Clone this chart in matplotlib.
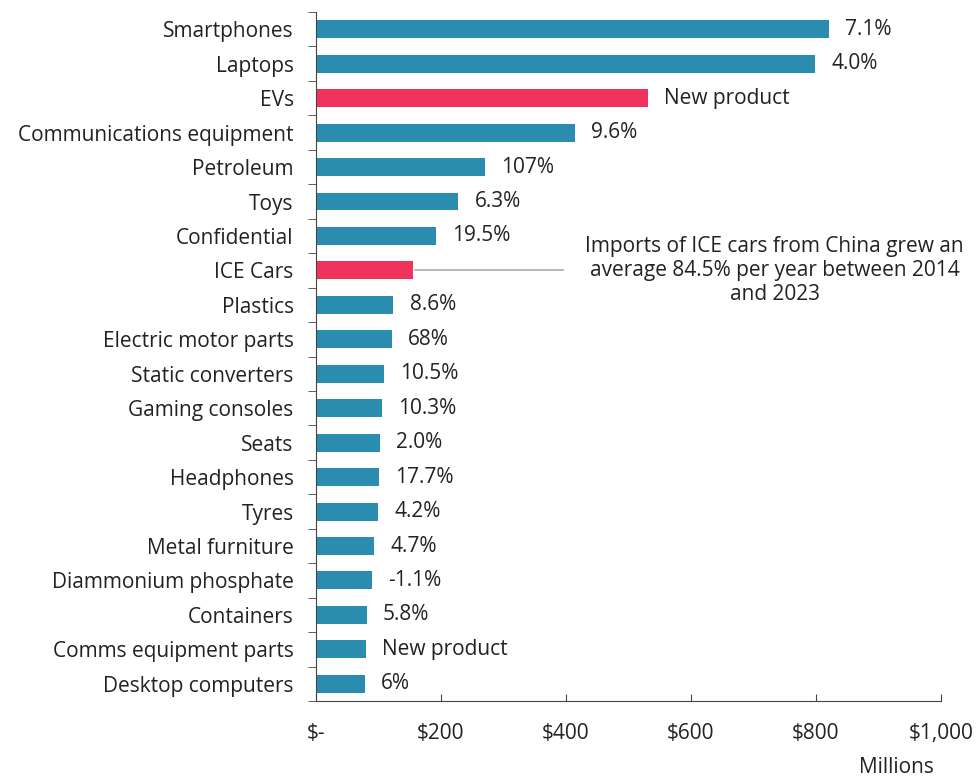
import matplotlib
matplotlib.use("Agg")
import matplotlib.pyplot as plt
import numpy as np

plt.rcParams["font.family"] = ["Open Sans", "DejaVu Sans"]

PRODUCTS = [
    "Smartphones", "Laptops", "EVs", "Communications equipment", "Petroleum",
    "Toys", "Confidential", "ICE Cars", "Plastics", "Electric motor parts",
    "Static converters", "Gaming consoles", "Seats", "Headphones", "Tyres",
    "Metal furniture", "Diammonium phosphate", "Containers",
    "Comms equipment parts", "Desktop computers",
]
VALUES = [821, 799, 531, 415, 271, 228, 192, 155, 124, 121,
          109, 105, 102, 101, 100, 93, 89, 81, 80, 78]
GROWTH = ["7.1%", "4.0%", "New product", "9.6%", "107%", "6.3%", "19.5%", "",
          "8.6%", "68%", "10.5%", "10.3%", "2.0%", "17.7%", "4.2%", "4.7%",
          "-1.1%", "5.8%", "New product", "6%"]
HIGHLIGHT = {"EVs", "ICE Cars"}
XTICKS = [0, 200, 400, 600, 800, 1000]
XTICK_LABELS = ["$-", "$200", "$400", "$600", "$800", "$1,000"]
NOTE = "Imports of ICE cars from China grew an\naverage 84.5% per year between 2014\nand 2023"

BLUE = "#2a8db0"
RED = "#f0335d"
TXT = "#222222"
FS = 15

fig = plt.figure(figsize=(9.78, 7.81), dpi=100)
ax = fig.add_axes([0.323, 0.1024, 0.639, 0.8822])

y = np.arange(len(PRODUCTS))
colors = [RED if p in HIGHLIGHT else BLUE for p in PRODUCTS]
ax.barh(y, VALUES, height=0.52, color=colors)

for yi, v, g in zip(y, VALUES, GROWTH):
    if g:
        ax.text(v + 26, yi, g, va="center", ha="left", fontsize=FS, color=TXT)

# callout for ICE cars
ice = PRODUCTS.index("ICE Cars")
ax.plot([VALUES[ice] + 4, 395], [ice, ice], color="#aaaaaa", lw=1.2)
ax.text(734, ice, NOTE, ha="center", va="center", multialignment="center",
        fontsize=FS, color=TXT, linespacing=1.2)

ax.set_ylim(len(PRODUCTS) - 0.5, -0.5)
ax.set_xlim(0, 1000)
ax.set_yticks(y)
ax.set_yticklabels(PRODUCTS, fontsize=FS, color=TXT)
ax.set_yticks(np.arange(len(PRODUCTS) + 1) - 0.5, minor=True)
ax.tick_params(axis="y", which="major", length=0, pad=16)
ax.tick_params(axis="y", which="minor", length=6, direction="out", color="#444444")

ax.set_xticks(XTICKS)
ax.set_xticklabels(XTICK_LABELS, fontsize=FS, color=TXT)
ax.tick_params(axis="x", length=5, direction="in", pad=16, color="#444444")

for s in ["top", "right"]:
    ax.spines[s].set_visible(False)
for s in ["left", "bottom"]:
    ax.spines[s].set_color("#444444")

ax.text(0.989, -0.097, "Millions", transform=ax.transAxes, ha="right",
        va="center", fontsize=FS, color=TXT)

fig.savefig("out.png", dpi=100)
